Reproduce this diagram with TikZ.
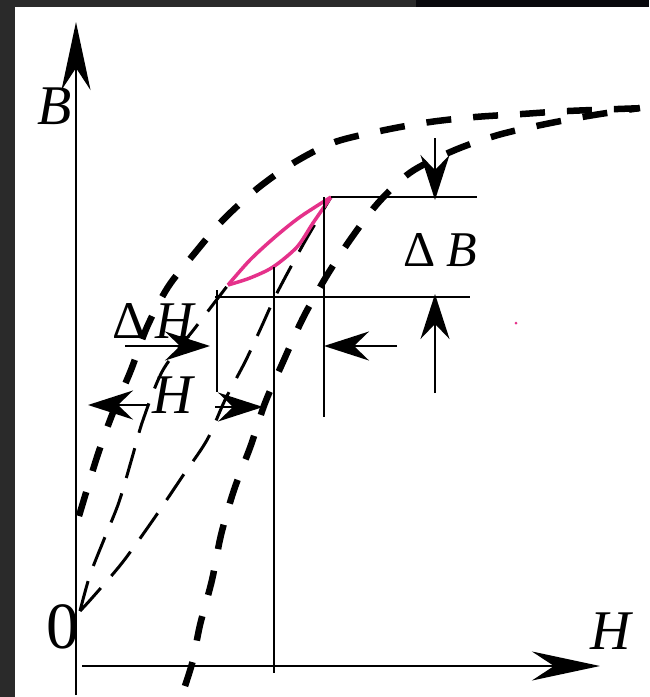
\documentclass[tikz,border=0pt]{standalone}
\usepackage{fontspec}
\setmainfont{Liberation Serif}
\usetikzlibrary{arrows.meta}
\definecolor{slideGrey}{HTML}{2A2A2A}
\definecolor{slideBlack}{HTML}{08080C}
\definecolor{loopPink}{HTML}{E5318A}

\begin{document}
\begin{tikzpicture}[x=1pt, y=-1pt, every node/.style={font=\fontsize{56}{60}\selectfont, inner sep=0pt},
            axisline/.style={line width=2.4pt, -{Stealth[length=68pt,width=29pt,inset=22pt]}},
            dimline/.style={line width=2pt},
            dimarrow/.style={line width=2pt, -{Stealth[length=45pt,width=29pt,inset=15pt]}},
            thickdash/.style={line width=6.5pt, dash pattern=on 25pt off 22pt},
            thindash/.style={line width=3pt, dash pattern=on 31pt off 16pt}]
            \fill[slideGrey] (0,0) rectangle (649,697);
            \fill[slideBlack] (416,0) rectangle (649,7);
            \fill[white] (15,7) rectangle (649,697);
            \useasboundingbox (0,0) rectangle (649,697);

            \coordinate (O) at (80,611);
            \coordinate (loopLow) at (228,285);
            \coordinate (loopHigh) at (331,197);

            \draw[axisline] (76,695) -- (76,22);
            \draw[axisline] (82,666) -- (600,666);
            \node (labelB) at (55,106) {\textit{B}};
            \node (labelH) at (612,631) {\textit{H}};
            \node[font=\fontsize{66}{70}\selectfont] (labelO) at (63,627) {0};

            \draw[thickdash] plot[smooth] coordinates {(79,516) (97,457) (112,415) (131,370) (147,327) (168,287) (194,254) (223,220) (258,188) (295,162) (335,142) (385,130) (430,122) (475,117) (522,114) (568,111) (645,108)};
            \draw[thickdash] plot[smooth] coordinates {(185,686) (193,660) (200,625) (212,580) (221,535) (234,490) (251,445) (265,403) (283,362) (303,318) (326,277) (350,240) (378,203) (411,172) (455,150) (498,135) (541,125) (588,116) (640,108)};
            \draw[thindash] plot[smooth] coordinates {(O) (90,575) (105,537) (119,502) (132,458) (143,420) (163,370) (195,328) (loopLow)};
            \draw[thindash] plot[smooth] coordinates {(O) (92,598) (122,563) (153,520) (182,477) (207,440) (225,400) (245,362) (260,330) (277,293) (304,243) (loopHigh)};

            \draw[loopPink, line width=3.5pt] plot[smooth] coordinates {(loopLow) (250,260) (275,237) (300,217) (loopHigh)};
            \draw[loopPink, line width=3.5pt] plot[smooth] coordinates {(loopLow) (250,278) (273,267) (297,247) (313,223) (loopHigh)};
            \fill[loopPink] (516,323) circle (1.5);

            \draw[dimline] (loopHigh) -- (477,197);
            \draw[dimline] (215,297) -- (470,297);
            \foreach \x/\ya/\yb in {217/290/392, 274/267/673, 324/197/417}{
                \draw[dimline] (\x,\ya) -- (\x,\yb);
            }

            \draw[dimarrow] (125,346) -- (210,346);
            \draw[dimarrow] (397,346) -- (324,346);
            \draw[dimarrow] (147,405) -- (88,405);
            \draw[dimarrow] (215,407) -- (263,407);
            \draw[dimarrow] (435,138) -- (435,200);
            \draw[dimarrow] (435,393) -- (435,294);

            \node[font=\fontsize{50}{54}\selectfont] (labelDB) at (440,250) {Δ\hspace{11pt}\textit{B}};
            \node[font=\fontsize{53}{56}\selectfont] (labelDH) at (154,321) {Δ\,\textit{H}};
            \node (labelDH2) at (174,395) {\textit{H}};
        \end{tikzpicture}
\end{document}
